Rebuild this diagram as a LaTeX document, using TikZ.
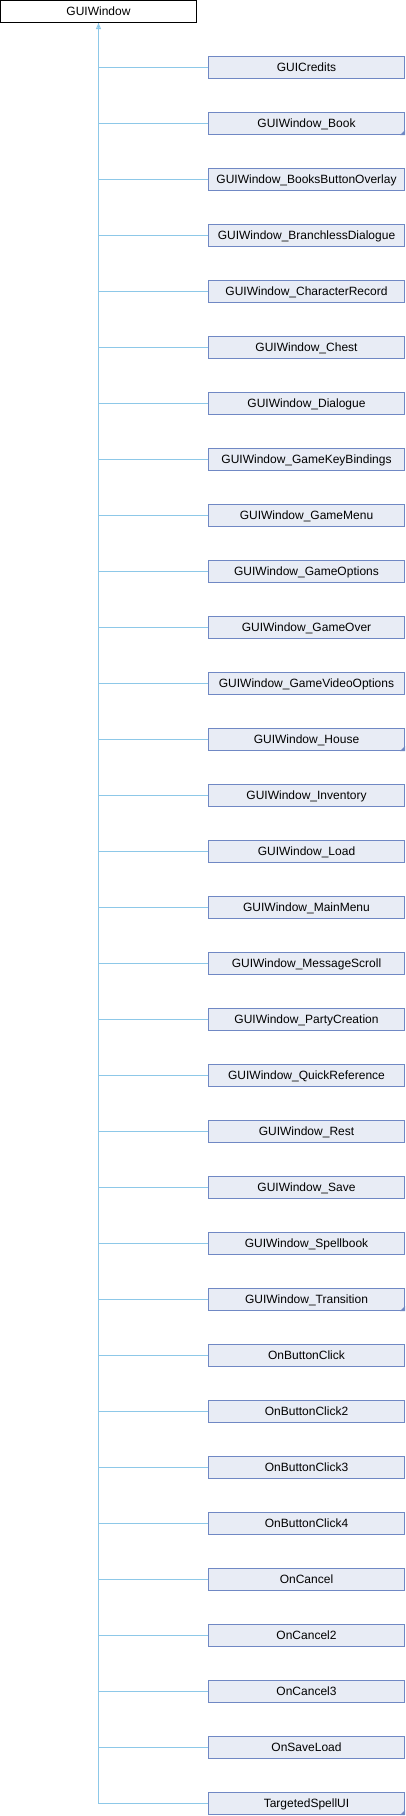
\documentclass[tikz,border=0pt]{standalone}
\usepackage{fontspec}
\setmainfont{Liberation Sans}
\usetikzlibrary{arrows.meta,calc}
\definecolor{boxfill}{HTML}{E8ECF5}
\definecolor{boxline}{HTML}{7088C4}
\definecolor{edgeblue}{HTML}{8DC8E8}
\tikzstyle{rootclass}=[draw=black,fill=white,line width=1pt,minimum width=196pt,minimum height=22pt,inner sep=0pt,text height=9pt,text depth=2pt,font=\fontsize{12}{14}\selectfont]
\tikzstyle{subclass}=[draw=boxline,fill=boxfill,line width=1pt,minimum width=196pt,minimum height=22pt,inner sep=0pt,text height=9pt,text depth=2pt,font=\fontsize{12}{14}\selectfont]
\tikzstyle{inherit} = [draw=edgeblue,line width=1pt]
\tikzstyle{moremark} = [fill=boxline]

\begin{document}
\begin{tikzpicture}[x=1pt,y=-1pt]
    \useasboundingbox (0,0) rectangle (406,1816);

    \node[rootclass] (base) at (98.5,11.5) {GUIWindow};

    % derived classes, one row every 56pt
    \foreach \label [count=\i from 0] in {GUICredits, GUIWindow\_Book, GUIWindow\_BooksButtonOverlay,
        GUIWindow\_BranchlessDialogue, GUIWindow\_CharacterRecord, GUIWindow\_Chest, GUIWindow\_Dialogue,
        GUIWindow\_GameKeyBindings, GUIWindow\_GameMenu, GUIWindow\_GameOptions, GUIWindow\_GameOver,
        GUIWindow\_GameVideoOptions, GUIWindow\_House, GUIWindow\_Inventory, GUIWindow\_Load,
        GUIWindow\_MainMenu, GUIWindow\_MessageScroll, GUIWindow\_PartyCreation, GUIWindow\_QuickReference,
        GUIWindow\_Rest, GUIWindow\_Save, GUIWindow\_Spellbook, GUIWindow\_Transition,
        OnButtonClick, OnButtonClick2, OnButtonClick3, OnButtonClick4,
        OnCancel, OnCancel2, OnCancel3, OnSaveLoad, TargetedSpellUI}
        \node[subclass] (c\i) at (306.5, 67.5+56*\i) {\label};

    % Connect every subclass to the base class
    \foreach \i in {0,...,31}
        \path[inherit] (base.south) |- (c\i.west);

    \draw[inherit, {Triangle[open,length=6pt,width=5pt]}-] (base.south) -- ++(0,10);

    % classes with hidden children get a small corner mark
    \foreach \name in {c1, c12, c22, c31}
        \fill[moremark] (\name.south east) -- ++(-5,0) -- ++(5,-5) -- cycle;

\end{tikzpicture}
\end{document}
